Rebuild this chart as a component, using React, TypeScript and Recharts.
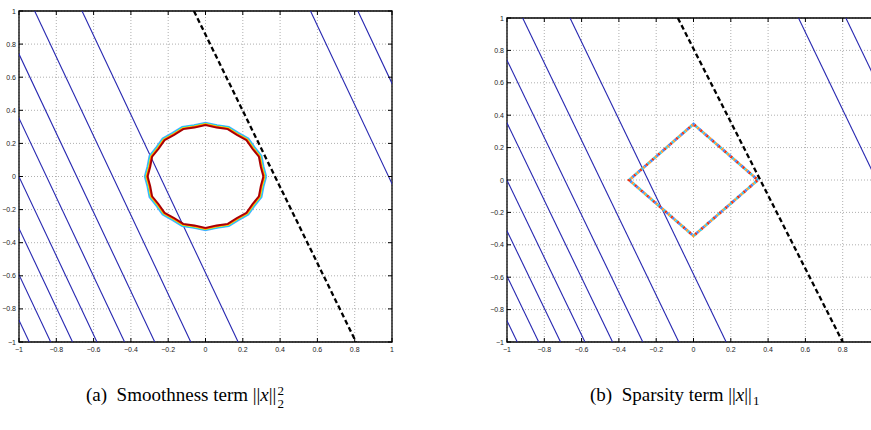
import React from 'react';
import { LineChart, Line, XAxis, YAxis, CartesianGrid, ReferenceArea } from 'recharts';

const TICKS = [-1, -0.8, -0.6, -0.4, -0.2, 0, 0.2, 0.4, 0.6, 0.8, 1];

// level lines of the data term, read where each one meets y = -1 and y = 1
const LEVEL_BOTTOM_X = [-0.945, -0.83, -0.713, -0.582, -0.434, -0.272, -0.079, 0.175, 1.4, 1.654];
const LEVEL_TOP_X = [-1.782, -1.667, -1.55, -1.419, -1.271, -1.109, -0.916, -0.662, 0.563, 0.817];

// dashed constraint line, endpoints at y = 1 and y = -1
const CONSTRAINT_A = [{ x: -0.062, y: 1 }, { x: 0.807, y: -1 }];
const CONSTRAINT_B = [{ x: -0.084, y: 1 }, { x: 0.8, y: -1 }];

// jagged l2 ball outline (innermost contour)
const L2_OUTLINE = [
  [0.31, 0], [0.296, 0.059], [0.286, 0.119], [0.251, 0.168], [0.219, 0.219], [0.168, 0.251],
  [0.119, 0.286], [0.059, 0.296], [0, 0.31], [-0.059, 0.296], [-0.119, 0.286], [-0.168, 0.251],
  [-0.219, 0.219], [-0.251, 0.168], [-0.286, 0.119], [-0.296, 0.059], [-0.31, 0], [-0.296, -0.059],
  [-0.286, -0.119], [-0.251, -0.168], [-0.219, -0.219], [-0.168, -0.251], [-0.119, -0.286],
  [-0.059, -0.296], [0, -0.31], [0.059, -0.296], [0.119, -0.286], [0.168, -0.251], [0.219, -0.219],
  [0.251, -0.168], [0.286, -0.119], [0.296, -0.059], [0.31, 0],
];
const L2_LEVELS = [1.056, 1.042, 1.028, 1.014, 1.0];
const L2_COLORS = ['#5aa9ff', '#00d2ff', '#f2df00', '#ff3010', '#a80000'];

const L1_OUTLINE = [[0.345, 0], [0, 0.345], [-0.345, 0], [0, -0.345], [0.345, 0]];
const L1_COLORS = ['#33ccee', '#ff9a30', '#3d8cff', '#ee3311'];

const BLUE = '#2626b0';
const TICK_FONT = '"Liberation Sans", Arial, sans-serif';
const CAPTION_FONT = '"Liberation Serif", "Times New Roman", serif';

const PAGE_W = 871;
const CHART_W = 400;
const CHART_H = 360;
const AXIS_W = 19;
const AXIS_H = 18;

const fmt = (v: number) => (v < 0 ? '\u2212' + String(Math.abs(v)) : String(v));

function levelLines() {
  return LEVEL_BOTTOM_X.map((xb, i) => [
    { x: xb, y: -1 },
    { x: LEVEL_TOP_X[i], y: 1 },
  ]);
}

function toPoints(outline: number[][], scale = 1) {
  return outline.map(([x, y]) => ({ x: x * scale, y: y * scale }));
}

interface PanelProps {
  left: number;
  plotTop: number;
  constraint: { x: number; y: number }[];
  children: React.ReactNode[];
}

function Panel({ left, plotTop, constraint, children }: PanelProps) {
  const plotLeft = AXIS_W;
  const plotRight = CHART_W - 8;
  const plotBottom = CHART_H - AXIS_H;

  const xTick = (p: any) => (
    <g>
      <line x1={p.x} x2={p.x} y1={plotBottom} y2={plotBottom - 4} stroke="#000" />
      <line x1={p.x} x2={p.x} y1={plotTop} y2={plotTop + 4} stroke="#000" />
      {left + p.x + 4 < PAGE_W && (
        <text x={p.x} y={plotBottom + 10} textAnchor="middle" fontSize={7} fontFamily={TICK_FONT} fill="#222">
          {fmt(p.payload.value)}
        </text>
      )}
    </g>
  );
  const yTick = (p: any) => (
    <g>
      <line x1={plotLeft} x2={plotLeft + 4} y1={p.y} y2={p.y} stroke="#000" />
      <line x1={plotRight} x2={plotRight - 4} y1={p.y} y2={p.y} stroke="#000" />
      <text x={plotLeft - 3} y={p.y + 2.5} textAnchor="end" fontSize={7} fontFamily={TICK_FONT} fill="#222">
        {fmt(p.payload.value)}
      </text>
    </g>
  );

  return (
    <div style={{ position: 'absolute', left, top: 0 }}>
      <LineChart width={CHART_W} height={CHART_H} margin={{ top: plotTop, right: 8, bottom: 0, left: 0 }}>
        <CartesianGrid stroke="#9a9a9a" strokeDasharray="1 2" strokeWidth={0.8} />
        <XAxis
          type="number"
          dataKey="x"
          domain={[-1, 1]}
          ticks={TICKS}
          allowDataOverflow
          height={AXIS_H}
          axisLine={false}
          tickLine={false}
          tick={xTick}
          interval={0}
        />
        <YAxis
          type="number"
          dataKey="y"
          domain={[-1, 1]}
          ticks={TICKS}
          allowDataOverflow
          width={AXIS_W}
          axisLine={false}
          tickLine={false}
          tick={yTick}
          interval={0}
        />
        {levelLines().map((d, i) => (
          <Line
            key={'lv' + i}
            data={d}
            dataKey="y"
            type="linear"
            stroke={BLUE}
            strokeWidth={1.1}
            dot={false}
            isAnimationActive={false}
          />
        ))}
        {children}
        <Line
          data={constraint}
          dataKey="y"
          type="linear"
          stroke="#000"
          strokeWidth={2.3}
          strokeDasharray="5 3"
          dot={false}
          isAnimationActive={false}
        />
        <ReferenceArea x1={-1} x2={1} y1={-1} y2={1} fill="none" stroke="#000" strokeWidth={1.3} />
      </LineChart>
    </div>
  );
}

function Stack({ top, bottom }: { top?: string; bottom: string }) {
  return (
    <span
      style={{
        display: 'inline-block',
        verticalAlign: top ? '-0.55em' : '-0.3em',
        fontSize: 13,
        lineHeight: '1',
        marginLeft: 1,
      }}
    >
      {top && <span style={{ display: 'block' }}>{top}</span>}
      <span style={{ display: 'block' }}>{bottom}</span>
    </span>
  );
}

const captionStyle: React.CSSProperties = {
  position: 'absolute',
  top: 384,
  fontFamily: CAPTION_FONT,
  fontSize: 19,
  whiteSpace: 'nowrap',
  color: '#000',
};

export default function App() {
  return (
    <div style={{ position: 'absolute', left: 0, top: 0, width: PAGE_W, height: 430, overflow: 'hidden', background: '#fff' }}>
      <Panel left={0} plotTop={11} constraint={CONSTRAINT_A}>
        {L2_LEVELS.map((s, i) => (
          <Line
            key={'l2' + i}
            data={toPoints(L2_OUTLINE, s)}
            dataKey="y"
            type="linear"
            stroke={L2_COLORS[i]}
            strokeWidth={i === L2_LEVELS.length - 1 ? 1.8 : 1.3}
            dot={false}
            isAnimationActive={false}
          />
        ))}
      </Panel>
      <Panel left={488} plotTop={18} constraint={CONSTRAINT_B}>
        {L1_COLORS.map((c, i) => (
          <Line
            key={'l1' + i}
            data={toPoints(L1_OUTLINE)}
            dataKey="y"
            type="linear"
            stroke={c}
            strokeWidth={2.8}
            strokeDasharray="2 6"
            strokeDashoffset={i * 2}
            dot={false}
            isAnimationActive={false}
          />
        ))}
      </Panel>
      <div style={{ ...captionStyle, left: 86 }}>
        (a)&nbsp; Smoothness term ||<i>x</i>||<Stack top="2" bottom="2" />
      </div>
      <div style={{ ...captionStyle, left: 590 }}>
        (b)&nbsp; Sparsity term ||<i>x</i>||<Stack bottom="1" />
      </div>
    </div>
  );
}
